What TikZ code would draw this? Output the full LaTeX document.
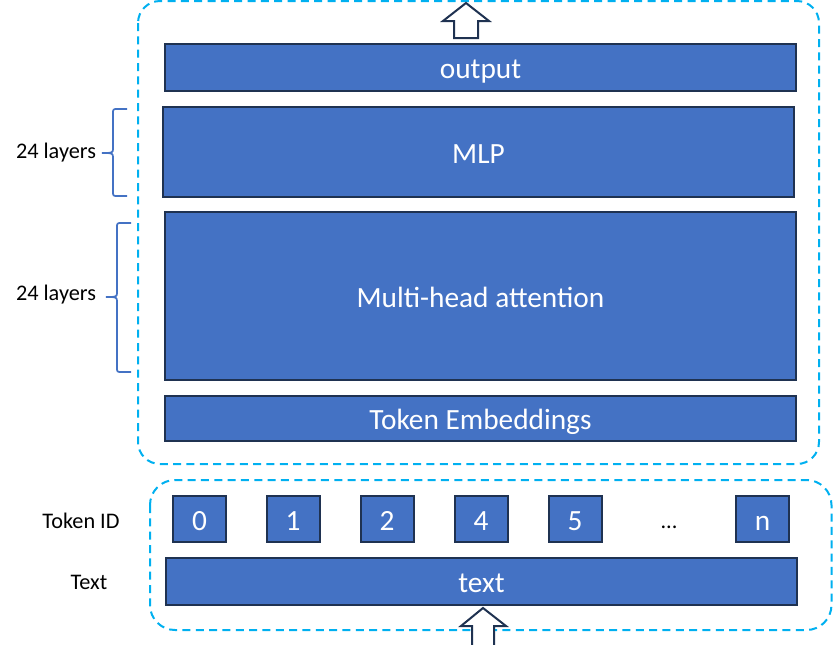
\documentclass[tikz,border=0pt]{standalone}
\usepackage{fontspec}
\setmainfont{Carlito}
\begin{document}
\begin{tikzpicture}[x=0.75pt,y=-0.75pt,
  blk/.style={draw=navy,line width=1.5pt,fill=boxblue,text=white,inner sep=0pt,
    font=\fontsize{22}{26}\selectfont,text height=16.7pt,text depth=0pt},
  tok/.style={blk,minimum width=53*0.75pt,minimum height=46*0.75pt},
  wide/.style={blk,minimum width=631*0.75pt},
  grp/.style={draw=cyanline,line width=1.5pt,dash pattern=on 6pt off 4pt},
  lbl/.style={inner sep=0pt,font=\fontsize{16.7}{20}\selectfont},
  brc/.style={draw=braceblue,line width=1.3pt},
  barrow/.style={draw=navy,line width=1.5pt,fill=white,line join=miter}]
\definecolor{boxblue}{HTML}{4472C4}
\definecolor{navy}{HTML}{1F3251}
\definecolor{cyanline}{HTML}{00B0F0}
\definecolor{braceblue}{HTML}{4472C4}
\useasboundingbox (0,0) rectangle (833,644);
% group frames
\draw[grp,rounded corners=22*0.75pt] (138,1) rectangle (819,464);
\draw[grp,rounded corners=25*0.75pt] (150,480) rectangle (831.5,630);
% layers
\node[wide,minimum height=47*0.75pt] (out) at (480.5,67.5) {output};
\node[wide,minimum height=90*0.75pt] (mlp) at (478.5,152) {MLP};
\node[wide,minimum height=168*0.75pt] (mha) at (480.5,296) {Multi-head attention};
\node[wide,minimum height=45*0.75pt] (emb) at (480.5,418.5) {Token Embeddings};
% tokens
\node[tok] (t0) at (199.5,519) {0};
\node[tok] (t1) at (293,519) {1};
\node[tok] (t2) at (387,519) {2};
\node[tok] (t4) at (481,519) {4};
\node[tok] (t5) at (575,519) {5};
\node[lbl] (dots) at (669,527) {...};
\node[tok] (tn) at (762.5,519) {n};
\node[wide,minimum height=47*0.75pt] (txt) at (481.5,581.5) {text};
% block arrows
\draw[barrow] (454,38) -- (454,21) -- (443,21) -- (466,3) -- (489,21) -- (478,21) -- (478,38) -- cycle;
\draw[barrow] (472,648) -- (472,626) -- (461,626) -- (483,608) -- (506,626) -- (494,626) -- (494,648);
% braces
\draw[brc] (127,109) -- (118,109) .. controls (113,109) .. (113,114) -- (113,148)
  .. controls (113,153) .. (102,153) .. controls (113,153) .. (113,158) -- (113,191)
  .. controls (113,196) .. (118,196) -- (127,196);
\draw[brc] (131,223) -- (122,223) .. controls (117,223) .. (117,228) -- (117,292)
  .. controls (117,297) .. (106,297) .. controls (117,297) .. (117,302) -- (117,367)
  .. controls (117,372) .. (122,372) -- (131,372);
% labels
\node[lbl] (l1) at (56,153) {24 layers};
\node[lbl] (l2) at (56,295) {24 layers};
\node[lbl] (lid) at (81,521) {Token ID};
\node[lbl] (ltx) at (89,582) {Text};
\end{tikzpicture}
\end{document}
